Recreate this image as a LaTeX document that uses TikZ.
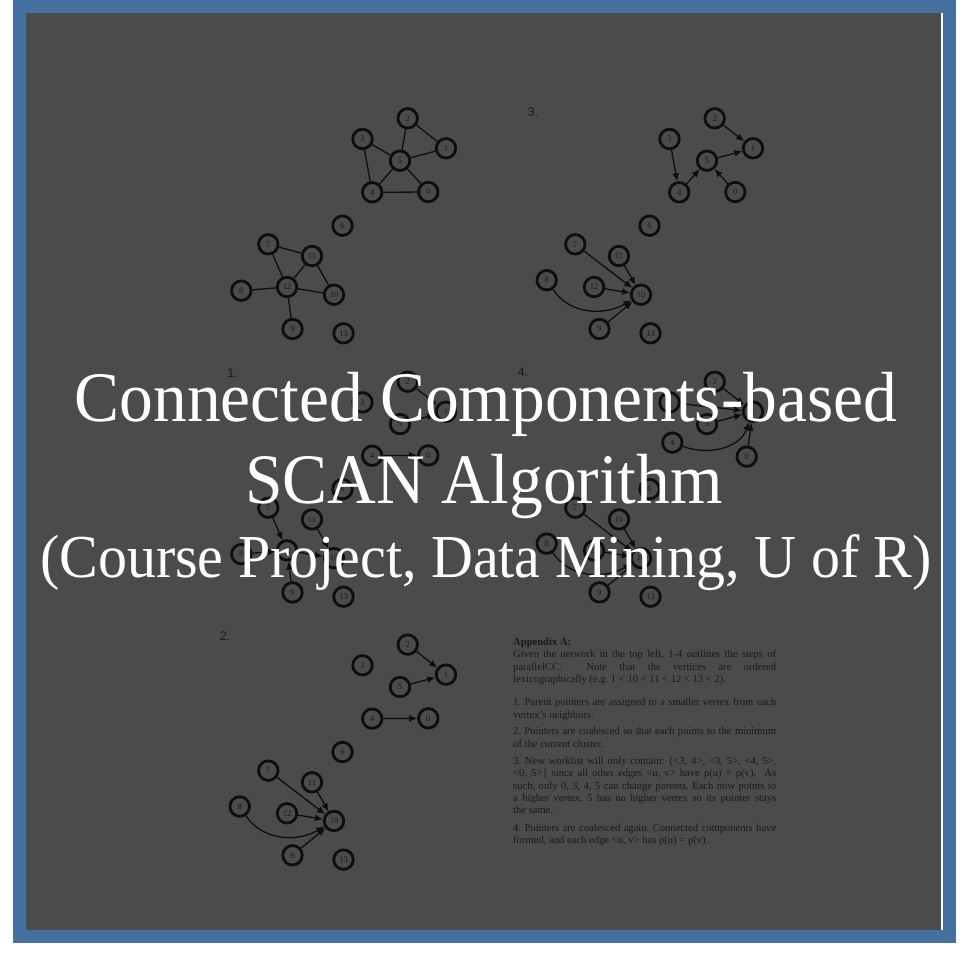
\documentclass[tikz,border=0pt]{standalone}
\usepackage{fontspec}
\usetikzlibrary{arrows.meta}
\newfontfamily\serifB{Liberation Serif}
\newfontfamily\sansB{Liberation Sans}
\definecolor{bgGray}{HTML}{4B4B4B}
\definecolor{frameBlue}{HTML}{4471A0}
\definecolor{ink}{HTML}{0E0E0E}
\definecolor{inkText}{HTML}{1A1A1A}
\definecolor{noteText}{HTML}{191919}
\tikzset{
  gn/.style={circle, draw=ink, line width=2.8pt, minimum size=19.5pt, inner sep=0pt,
    font=\serifB\fontsize{8.5}{9}\selectfont, text=inkText},
  ge/.style={draw=ink, line width=1.3pt},
  ga/.style={ge, -{Latex[length=8pt,width=7pt]}},
  plabel/.style={font=\sansB\fontsize{12.5}{14}\selectfont, text=inkText, inner sep=0pt},
  ttl/.style={text=white, inner sep=0pt, anchor=base},
  note/.style={text=noteText, inner sep=0pt, anchor=north west, text width=263pt, align=justify,
    font=\serifB\frenchspacing\fontsize{10.6}{12.35}\selectfont}
}
% #1 prefix, #2 position of 8, #3 position of 4, #4 position of 0
\newcommand\gnodes[4]{%
  \node[gn] (#10) at #4 {0};
  \node[gn] (#11) at (446,148.3) {1};
  \node[gn] (#12) at (407.7,118.3) {2};
  \node[gn] (#13) at (362.5,139) {3};
  \node[gn] (#14) at #3 {4};
  \node[gn] (#15) at (400,160.7) {5};
  \node[gn] (#16) at (342.5,225.7) {6};
  \node[gn] (#17) at (268.3,244.3) {7};
  \node[gn] (#18) at #2 {8};
  \node[gn] (#19) at (292.5,329) {9};
  \node[gn] (#110) at (334,294.7) {10};
  \node[gn] (#111) at (312,256) {11};
  \node[gn] (#112) at (287,287) {12};
  \node[gn] (#113) at (343.5,333.3) {13};
}
\begin{document}
\begin{tikzpicture}[x=1pt,y=-1pt]
\useasboundingbox (0,0) rectangle (974,954);
\fill[white] (0,0) rectangle (974,954);
\fill[frameBlue] (13,0) rectangle (956,943);
\fill[bgGray] (26,13) rectangle (941,930);
\fill[white] (941,13) rectangle (943,930);

% panel 0 (original network)
\begin{scope}
  \gnodes{a}{(241.3,290.7)}{(372.2,192.3)}{(428.3,192)}
  \draw[ge] (a2)--(a1) (a2)--(a5) (a3)--(a5) (a5)--(a1) (a3)--(a4) (a5)--(a4)
            (a5)--(a0) (a4)--(a0) (a7)--(a11) (a7)--(a12) (a11)--(a12) (a11)--(a10)
            (a8)--(a12) (a12)--(a10) (a12)--(a9);
\end{scope}

% panel 3
\node[plabel] (lb3) at (533,112) {3.};
\begin{scope}[shift={(307,0)}]
  \gnodes{b}{(239.7,280.2)}{(372.2,192.3)}{(428.3,192)}
  \draw[ga] (b2)--(b1);
  \draw[ga] (b5)--(b1);
  \draw[ga] (b3)--(b4);
  \draw[ga] (b4)--(b5);
  \draw[ga] (b0)--(b5);
  \draw[ga] (b7)--(b10);
  \draw[ga] (b11)--(b10);
  \draw[ga] (b12)--(b10);
  \draw[ga] (b8) to[out=-56,in=210] (b10);
  \draw[ga] (b9)--(b10);
\end{scope}

% panel 1
\node[plabel] (lb1) at (232.7,373.3) {1.};
\begin{scope}[shift={(0,263.4)}]
  \gnodes{c}{(241.3,290.7)}{(372.2,192.3)}{(428.3,192)}
  \draw[ga] (c2)--(c1);
  \draw[ga] (c5)--(c1);
  \draw[ga] (c4)--(c0);
  \draw[ga] (c7)--(c12);
  \draw[ga] (c8)--(c12);
  \draw[ga] (c9)--(c12);
  \draw[ga] (c12)--(c10);
  \draw[ga] (c11)--(c10);
\end{scope}

% panel 4
\node[plabel] (lb4) at (523,372) {4.};
\begin{scope}[shift={(307,263.4)}]
  \gnodes{d}{(239.7,280.2)}{(365.3,179.2)}{(439.7,193.2)}
  \draw[ga] (d2)--(d1);
  \draw[ga] (d3)--(d1);
  \draw[ga] (d5)--(d1);
  \draw[ga] (d4) to[out=-20,in=250] (d1);
  \draw[ga] (d0)--(d1);
  \draw[ga] (d7)--(d10);
  \draw[ga] (d11)--(d10);
  \draw[ga] (d12)--(d10);
  \draw[ga] (d8) to[out=-56,in=210] (d10);
  \draw[ga] (d9)--(d10);
\end{scope}

% panel 2
\node[plabel] (lb2) at (225,636) {2.};
\begin{scope}[shift={(0,526.3)}]
  \gnodes{e}{(239.7,280.2)}{(372.2,192.3)}{(428.3,192)}
  \draw[ga] (e2)--(e1);
  \draw[ga] (e5)--(e1);
  \draw[ga] (e4)--(e0);
  \draw[ga] (e7)--(e10);
  \draw[ga] (e11)--(e10);
  \draw[ga] (e12)--(e10);
  \draw[ga] (e8) to[out=-56,in=210] (e10);
  \draw[ga] (e9)--(e10);
\end{scope}

% appendix text
\node[note] (appx) at (513,638) {%
{\bfseries Appendix A:}\\
Given the network in the top left, 1-4 outlines the steps of\linebreak
parallelCC.\ \ Note that the vertices are ordered\linebreak
lexicographically (e.g. 1 < 10 < 11 < 12 < 13 < 2).\par\vspace{10.7pt}
1. Parent pointers are assigned to a smaller vertex from each\linebreak
vertex’s neighbors.\par\vspace{4.5pt}
2. Pointers are coalesced so that each points to the minimum\linebreak
of the current cluster.\par\vspace{5pt}
3. New worklist will only contain: \{<3, 4>, <3, 5>, <4, 5>,\linebreak
<0, 5>\} since all other edges <u, v> have p(u) = p(v).\ \ As\linebreak
such, only 0, 3, 4, 5 can change parents. Each now points to\linebreak
a higher vertex. 5 has no higher vertex so its pointer stays\linebreak
the same.\par\vspace{5pt}
4. Pointers are coalesced again. Connected components have\linebreak
formed, and each edge <u, v> has p(u) = p(v).};

% title
\node[ttl, xscale=0.95, font=\serifB\fontsize{71}{80}\selectfont] (t1) at (486,421) {Connected Components-based};
\node[ttl, xscale=0.95, font=\serifB\fontsize{71}{80}\selectfont] (t2) at (484,503) {SCAN Algorithm};
\node[ttl, xscale=0.95, font=\serifB\fontsize{61}{68}\selectfont] (t3) at (486,577) {(Course Project, Data Mining, U of R)};
\end{tikzpicture}
\end{document}
